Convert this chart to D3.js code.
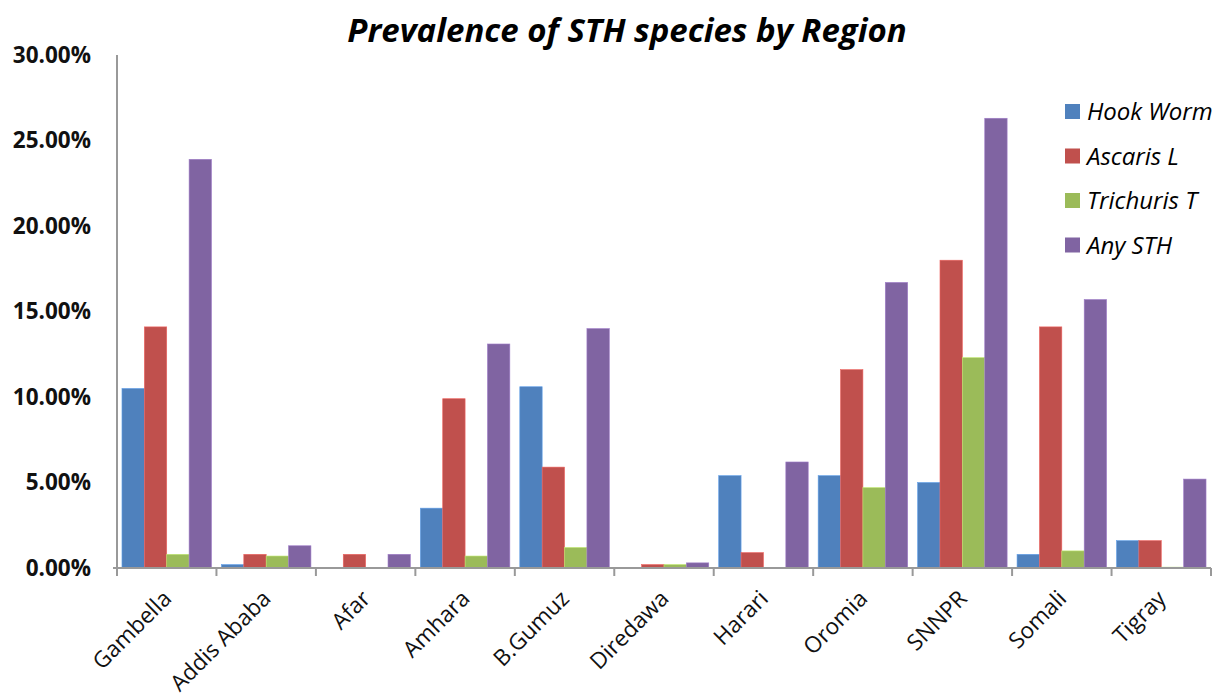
<!DOCTYPE html>
<html><head><meta charset="utf-8">
<script src="https://cdn.jsdelivr.net/npm/d3@7"></script>
<style>body{margin:0;background:#fff}svg{display:block}</style>
</head><body>
<script>
const regions = ["Gambella","Addis Ababa","Afar","Amhara","B.Gumuz","Diredawa","Harari","Oromia","SNNPR","Somali","Tigray"];
const seriesNames = ["Hook Worm","Ascaris L","Trichuris T","Any STH"];
const hookWorm   = [10.5, 0.2, 0.0, 3.5, 10.6, 0.0, 5.4, 5.4, 5.0, 0.8, 1.6];
const ascarisL   = [14.1, 0.8, 0.8, 9.9, 5.9, 0.2, 0.9, 11.6, 18.0, 14.1, 1.6];
const trichurisT = [0.8, 0.7, 0.0, 0.7, 1.2, 0.2, 0.0, 4.7, 12.3, 1.0, 0.05];
const anySTH     = [23.9, 1.3, 0.8, 13.1, 14.0, 0.3, 6.2, 16.7, 26.3, 15.7, 5.2];
const yTicks = [0, 5, 10, 15, 20, 25, 30];
const colors = ["#4F81BD","#C0504D","#9BBB59","#8064A2"];

const allSeries = [hookWorm, ascarisL, trichurisT, anySTH];
const W = 1216, H = 695;
const m = {left:117, right:5, top:55, bottom:127};
const svg = d3.select("body").append("svg").attr("width", W).attr("height", H);

const x0 = d3.scaleBand().domain(regions).range([m.left, 1211]).paddingInner(0.1).paddingOuter(0.05);
const x1 = d3.scaleBand().domain(seriesNames).range([0, x0.bandwidth()]);
const y = d3.scaleLinear().domain([0, 30]).range([568, 55]);

// bars
regions.forEach((r, i) => {
  const g = svg.append("g").attr("transform", `translate(${x0(r)},0)`);
  seriesNames.forEach((s, j) => {
    const v = allSeries[j][i];
    if (v <= 0) return;
    g.append("rect")
      .attr("x", x1(s)).attr("width", x1.bandwidth())
      .attr("y", y(v)).attr("height", y(0) - y(v))
      .attr("fill", colors[j])
      .attr("stroke", d3.color(colors[j]).brighter(0.6))
      .attr("stroke-width", 0.6);
  });
});

// y axis
const yAxis = svg.append("g").attr("transform", `translate(${m.left},0)`)
  .call(d3.axisLeft(y).tickValues(yTicks).tickSize(0).tickPadding(26).tickFormat(d => d.toFixed(2) + "%"));
yAxis.select(".domain").attr("stroke", "#999").attr("stroke-width", 2).attr("d", `M0,55V${y(0)}`);
yAxis.selectAll("text").attr("font-family", "'Open Sans', sans-serif").attr("font-weight", "bold")
  .attr("font-size", 22.5).attr("fill", "#111");

// x axis
const xAxis = svg.append("g").attr("transform", `translate(0,${y(0)})`)
  .call(d3.axisBottom(x0).tickSize(0).tickFormat(""));
xAxis.select(".domain").attr("stroke", "#999").attr("stroke-width", 2).attr("d", `M${m.left - 4},0H1211`);
const boundaries = d3.range(regions.length + 1).map(i => m.left + i * x0.step());
xAxis.selectAll(".bnd").data(boundaries).enter().append("line")
  .attr("x1", d => d).attr("x2", d => d).attr("y1", 0).attr("y2", 8)
  .attr("stroke", "#999").attr("stroke-width", 2);

svg.append("g").selectAll("text").data(regions).enter().append("text")
  .attr("transform", d => `translate(${x0(d) + x0.bandwidth()/2 + 6},${y(0) + 32}) rotate(-45)`)
  .attr("text-anchor", "end")
  .attr("font-family", "'Open Sans', sans-serif").attr("font-size", 22.5)
  .attr("fill", "#111")
  .text(d => d);

// title
svg.append("text").attr("x", 627).attr("y", 42).attr("text-anchor", "middle")
  .attr("font-family", "'Open Sans', sans-serif").attr("font-weight", "bold").attr("font-style", "italic")
  .attr("font-size", 33).attr("fill", "#000")
  .text("Prevalence of STH species by Region");

// legend
const leg = svg.append("g");
seriesNames.forEach((s, j) => {
  const yy = 111 + j * 44.5;
  leg.append("rect").attr("x", 1065).attr("y", yy - 7).attr("width", 15).attr("height", 15).attr("fill", colors[j]);
  leg.append("text").attr("x", 1087).attr("y", yy + 9)
    .attr("font-family", "'Open Sans', sans-serif").attr("font-style", "italic")
    .attr("font-size", 24).attr("fill", "#000").text(s);
});
</script>
</body></html>
